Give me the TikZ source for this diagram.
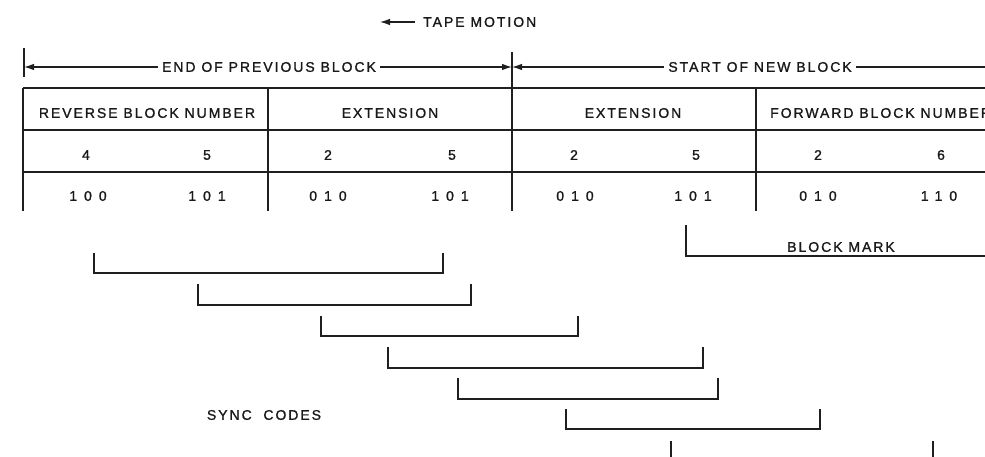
\documentclass[tikz,border=0pt]{standalone}
\usepackage{fontspec}
\newfontfamily\lett[LetterSpace=14,FakeBold=1.2]{Liberation Sans}
\newfontfamily\digs[LetterSpace=50,FakeBold=1.2]{Liberation Sans}
\usetikzlibrary{arrows.meta}
\begin{document}
\begin{tikzpicture}[x=1pt,y=-1pt,
  lbl/.style={font=\lett\fontsize{14}{16}\selectfont, text=black!90, inner sep=4pt},
  num/.style={font=\digs\fontsize{14}{16}\selectfont, text=black!90, inner sep=0pt},
  rule/.style={draw=black!88, line width=1.6pt},
  dim/.style={draw=black!88, line width=1.1pt},
  brk/.style={draw=black!88, line width=1.5pt},
  tip/.style={-{Latex[length=10pt,width=6.5pt]}}
]
\useasboundingbox (0,0) rectangle (985,457);
\clip (0,0) rectangle (985,457);

% tape motion
\node[lbl, anchor=west, inner sep=0pt] (tm) at (423,22) {TAPE MOTION};
\coordinate (tmtip) at (380,22);
\draw[dim, tip] ([xshift=-8pt]tm.west) -- (tmtip);

% dimension line
\coordinate (t1a) at (24,48); \coordinate (t1b) at (24,77);
\coordinate (t2a) at (512,52);
\coordinate (d1) at (24,67); \coordinate (d2) at (512,67); \coordinate (d3) at (990,67);
\draw[dim] (t1a) -- (t1b);
\node[lbl] (endb) at (269,67) {END OF PREVIOUS BLOCK};
\node[lbl] (startb) at (760,67) {START OF NEW BLOCK};
\draw[dim, tip] (endb.west) -- (d1);
\draw[dim, tip] (endb.east) -- (d2);
\draw[dim, tip] (startb.west) -- (d2);
\draw[dim] (startb.east) -- (d3);

% table
\coordinate (r0l) at (23,88);  \coordinate (r0r) at (990,88);
\coordinate (r1l) at (23,130); \coordinate (r1r) at (990,130);
\coordinate (r2l) at (23,172); \coordinate (r2r) at (990,172);
\draw[rule] (r0l) -- (r0r);
\draw[rule] (r1l) -- (r1r);
\draw[rule] (r2l) -- (r2r);
\coordinate (v1t) at (23,88);  \coordinate (v1b) at (23,211);
\coordinate (v2t) at (268,88); \coordinate (v2b) at (268,211);
\coordinate (v3b) at (512,211);
\coordinate (v4t) at (756,88); \coordinate (v4b) at (756,211);
\draw[rule] (v1t) -- (v1b);
\draw[rule] (v2t) -- (v2b);
\draw[rule] (t2a) -- (v3b);
\draw[rule] (v4t) -- (v4b);

\node[lbl] (h1) at (147,113) {REVERSE BLOCK NUMBER};
\node[lbl] (h2) at (390,113) {EXTENSION};
\node[lbl] (h3) at (633,113) {EXTENSION};
\node[lbl, anchor=west, inner sep=0pt] (h4) at (770,113) {FORWARD BLOCK NUMBER};

\node[num] (a1) at (86,155) {4};
\node[num] (a2) at (207,155) {5};
\node[num] (a3) at (328,155) {2};
\node[num] (a4) at (452,155) {5};
\node[num] (a5) at (574,155) {2};
\node[num] (a6) at (696,155) {5};
\node[num] (a7) at (818,155) {2};
\node[num] (a8) at (941,155) {6};

\node[num] (b1) at (88,196) {100};
\node[num] (b2) at (207,196) {101};
\node[num] (b3) at (328,196) {010};
\node[num] (b4) at (450,196) {101};
\node[num] (b5) at (575,196) {010};
\node[num] (b6) at (693,196) {101};
\node[num] (b7) at (818,196) {010};
\node[num] (b8) at (939,196) {110};

% block mark
\coordinate (bm1) at (686,225); \coordinate (bm2) at (686,256); \coordinate (bm3) at (990,256);
\draw[brk] (bm1) -- (bm2) -- (bm3);
\node[lbl] (bmk) at (841,247) {BLOCK MARK};

% sync code brackets
\foreach \l/\r/\t/\b [count=\i] in {94/443/253/273, 198/471/284/305, 321/578/316/336, 388/703/347/368, 458/718/378/399, 566/820/409/429, 671/933/441/470}{
  \coordinate (s\i a) at (\l,\t);
  \coordinate (s\i b) at (\l,\b);
  \coordinate (s\i c) at (\r,\b);
  \coordinate (s\i d) at (\r,\t);
  \draw[brk] (s\i a) -- (s\i b) -- (s\i c) -- (s\i d);
}
\node[lbl] (sync) at (264,415) {SYNC\ \ CODES};
\end{tikzpicture}
\end{document}
